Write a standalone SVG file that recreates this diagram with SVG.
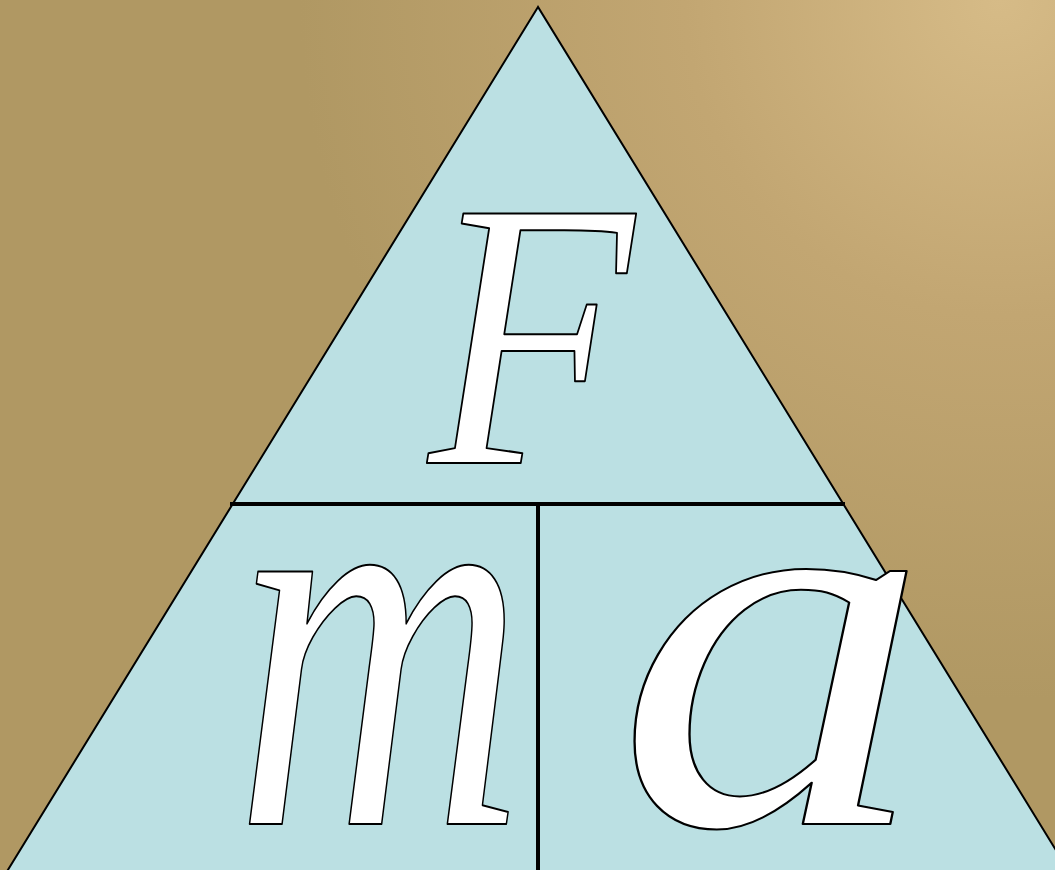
<svg xmlns="http://www.w3.org/2000/svg" width="1055" height="870" viewBox="0 0 1055 870">
  <style>
    .glyph { font-family: "Liberation Serif", "Times New Roman", serif; font-style: italic; fill: #ffffff; stroke: #000000; stroke-width: 2; stroke-linejoin: round; text-anchor: middle; }
    .div { stroke: #000000; stroke-width: 4; fill: none; }
  </style>
  <defs>
    <radialGradient id="bg" cx="1000" cy="0" r="700" gradientUnits="userSpaceOnUse">
      <stop offset="0" stop-color="#d6bb87"/>
      <stop offset="0.45" stop-color="#c2a672"/>
      <stop offset="1" stop-color="#b09863"/>
    </radialGradient>
  </defs>
  <rect x="0" y="0" width="1055" height="870" fill="#af9762"/>
  <rect x="0" y="0" width="1055" height="870" fill="url(#bg)"/>
  <g id="triangle">
    <polygon points="538,7 -29,930 1105,930" fill="#bbe0e3" stroke="#000000" stroke-width="2" stroke-linejoin="miter"/>
  </g>
  <g id="connectors">
    <line class="div" x1="230" y1="504" x2="845" y2="504"/>
    <line class="div" x1="538" y1="504" x2="538" y2="872"/>
  </g>
  <g id="node-F">
    <text class="glyph" transform="translate(531,463) scale(0.88,1)" font-size="381">F</text>
  </g>
  <g id="node-m">
    <text class="glyph" transform="translate(380,824) scale(0.73,1)" font-size="550">m</text>
  </g>
  <g id="node-a">
    <text class="glyph" transform="translate(773,824) scale(1.16,1)" font-size="542">a</text>
  </g>
</svg>
